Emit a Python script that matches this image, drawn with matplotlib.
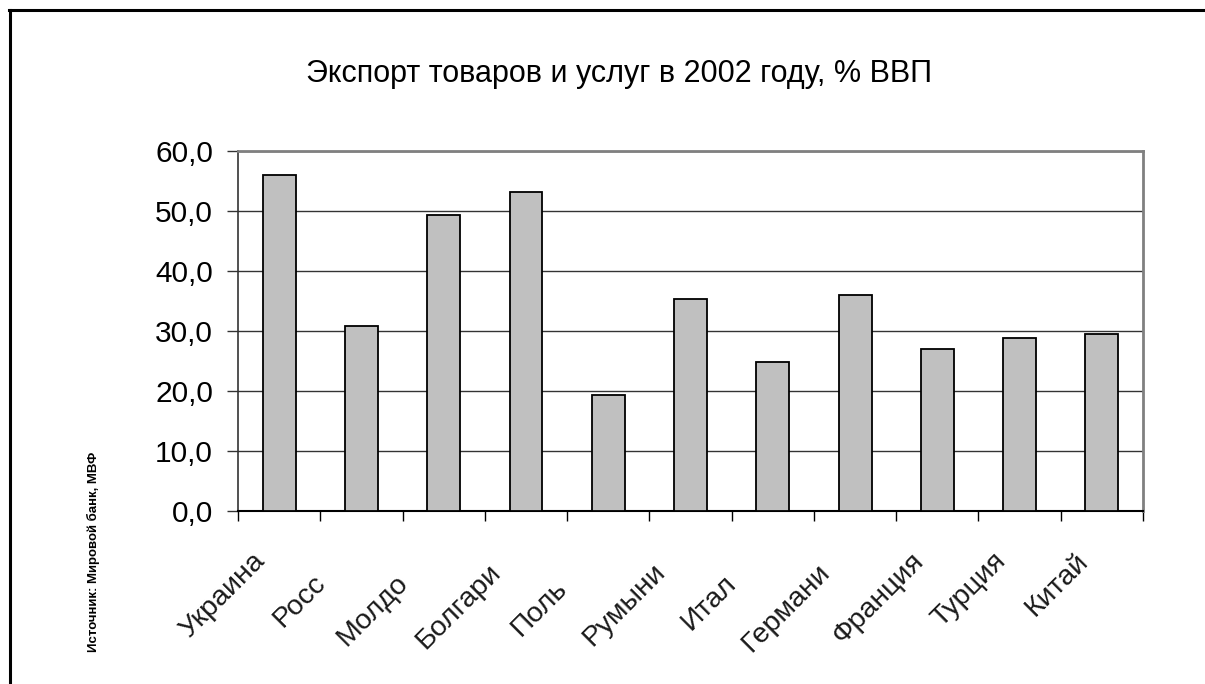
import numpy as np
import matplotlib
matplotlib.use('Agg')
import matplotlib.pyplot as plt
from matplotlib.transforms import ScaledTranslation
from matplotlib.lines import Line2D
from matplotlib.font_manager import FontProperties, fontManager

# data
countries = ['Украина', 'Россия', 'Молдова', 'Болгария', 'Польша', 'Румыния',
             'Италия', 'Германия', 'Франция', 'Турция', 'Китай']
# labels as they are visible (Excel cut the long ones)
shown = ['Украина', 'Росс', 'Молдо', 'Болгари', 'Поль', 'Румыни',
         'Итал', 'Германи', 'Франция', 'Турция', 'Китай']
export = [56.0, 30.9, 49.3, 53.2, 19.4, 35.4, 24.8, 36.0, 27.0, 28.8, 29.5]
yticks = [0, 10, 20, 30, 40, 50, 60]
title = 'Экспорт товаров и услуг в 2002 году, % ВВП'
source = 'Источник: Мировой банк, МВФ'

plt.rcParams['font.family'] = ['Liberation Sans', 'DejaVu Sans']
names = {f.name for f in fontManager.ttflist}
narrow = 'Liberation Sans Narrow' in names

W, H = 1205, 684
fig = plt.figure(figsize=(W / 100, H / 100), dpi=100)
ax = fig.add_axes([238 / W, 173 / H, 905 / W, 360 / H])

x = np.arange(len(countries))
ax.bar(x, export, width=0.4, color='#c0c0c0', edgecolor='black', linewidth=1.3, zorder=3)
ax.set_xlim(-0.5, len(countries) - 0.5)
ax.set_ylim(0, 60)

ax.set_yticks(yticks)
ax.set_yticklabels([f'{v:.1f}'.replace('.', ',') for v in yticks], fontsize=21.5)
ax.yaxis.grid(True, color='#333333', linewidth=1, zorder=0)
ax.set_xticks(np.arange(-0.5, len(countries), 1))
ax.set_xticklabels([])
ax.tick_params(axis='x', length=7.5, width=1, color='black')
ax.tick_params(axis='y', length=8, width=1, pad=10, color='#333333')

ax.spines['top'].set_color('#808080')
ax.spines['top'].set_linewidth(2)
ax.spines['right'].set_color('#808080')
ax.spines['right'].set_linewidth(2)
ax.spines['left'].set_color('#333333')
ax.spines['left'].set_linewidth(1.2)
ax.spines['bottom'].set_color('black')
ax.spines['bottom'].set_linewidth(1.5)

# rotated category labels: full name would end at the same spot,
# only the visible part is drawn, starting where the full name starts
renderer = fig.canvas.get_renderer()
prop = FontProperties(family='Liberation Sans', size=20.5)
c = np.cos(np.radians(45))
for i in range(len(countries)):
    wf = renderer.get_text_width_height_descent(countries[i], prop, ismath=False)[0]
    dx = -13 - wf * c
    dy = -51 - wf * c
    off = ScaledTranslation(dx / 100, dy / 100, fig.dpi_scale_trans)
    ax.text(i, 0, shown[i], fontproperties=prop, rotation=45, rotation_mode='anchor',
            ha='left', va='baseline', transform=ax.transData + off, color='#1a1a1a')

if narrow:
    fig.text(619 / W, 1 - 82 / H, title, ha='center', va='baseline', fontsize=26,
             family=['Liberation Sans Narrow', 'DejaVu Sans'])
else:
    fig.text(619 / W, 1 - 82 / H, title, ha='center', va='baseline', fontsize=22)

fig.text(93 / W, 1 - 552 / H, source, rotation=90, ha='center', va='center',
         fontsize=9.5, fontweight='bold')

# page frame
fig.add_artist(Line2D([9.5 / W, 9.5 / W], [0, 1 - 9.5 / H], color='black',
                      linewidth=2.2, transform=fig.transFigure))
fig.add_artist(Line2D([8.5 / W, 1], [1 - 9.5 / H, 1 - 9.5 / H], color='black',
                      linewidth=2.2, transform=fig.transFigure))

fig.savefig('out.png', dpi=100)
